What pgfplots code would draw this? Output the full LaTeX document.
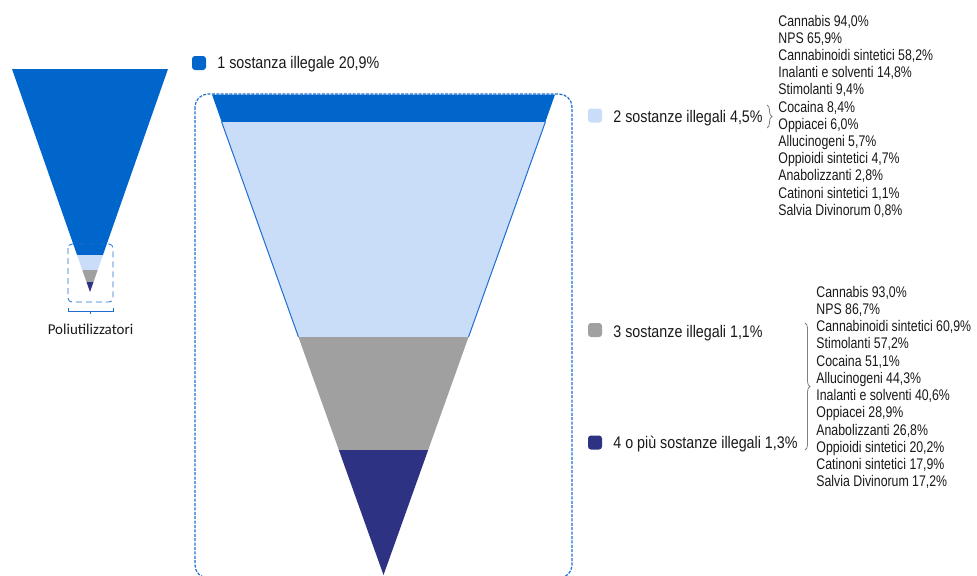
\documentclass[border=0pt]{standalone}
\usepackage{fontspec}
\setmainfont{Liberation Sans}
\newfontfamily\legfont{Liberation Sans}[FakeStretch=0.85]
\newfontfamily\lstfont{Liberation Sans}[FakeStretch=0.8]
\newfontfamily\carl{Carlito}
\usepackage{pgfplots}
\pgfplotsset{compat=1.18}
\usetikzlibrary{decorations.pathreplacing}

\definecolor{fblue}{RGB}{0,102,204}
\definecolor{flight}{RGB}{201,221,248}
\definecolor{fgray}{RGB}{160,160,160}
\definecolor{fnavy}{RGB}{45,50,130}
\definecolor{dashblue}{RGB}{30,110,210}
\definecolor{txt}{RGB}{25,25,25}

% one line of a substance list, baseline at (x,y)
\newcommand{\lst}[3]{\node[anchor=base west,inner sep=0pt,text=txt,
  font=\lstfont\fontsize{7.7}{8}\selectfont] at (axis cs:#1,#2) {#3};}
% legend entry: square centre y, text baseline y, colour, label
\newcommand{\leg}[4]{%
  \node[fill=#3,minimum size=7pt,inner sep=0pt,rounded corners=1.5pt] at (axis cs:595,#1) {};
  \node[anchor=base west,inner sep=0pt,text=txt,
    font=\legfont\fontsize{8.4}{9}\selectfont] at (axis cs:613,#2) {#4};}

\begin{document}
\begin{tikzpicture}
\begin{axis}[
    scale only axis,
    width=488.5pt, height=287.5pt,
    xmin=0, xmax=977, ymin=0, ymax=575,
    y dir=reverse,
    axis lines=none,
    clip=false,
  ]
  % small funnel
  \addplot[fill=fblue, draw=none] coordinates {(12,69) (168,69) (102.94,255) (77.06,255)} -- cycle;
  \addplot[fill=flight, draw=none] coordinates {(77.06,255) (102.94,255) (97.7,270) (82.3,270)} -- cycle;
  \addplot[fill=fgray, draw=none] coordinates {(82.3,270) (97.7,270) (93.5,282) (86.5,282)} -- cycle;
  \addplot[fill=fnavy, draw=none] coordinates {(86.5,282) (93.5,282) (90,292)} -- cycle;
  \draw[dashblue, densely dashed, line width=0.4pt, rounded corners=2pt]
    (axis cs:68,244) rectangle (axis cs:113,302);
  \draw[dashblue, line width=0.5pt] (axis cs:68,308) -- (axis cs:68,311) -- (axis cs:113,311) -- (axis cs:113,308)
    (axis cs:90.5,311) -- (axis cs:90.5,314);
  \node[anchor=base, inner sep=0pt, text=txt, font=\carl\fontsize{7.5}{9}\selectfont]
    at (axis cs:90.5,334) {Poliutilizzatori};

  % big funnel
  \addplot[fill=fblue, draw=none] coordinates {(212,94.5) (555,94.5) (545.35,122) (221.65,122)} -- cycle;
  \addplot[fill=flight, draw=none] coordinates {(221.65,122) (545.35,122) (468.53,337) (298.47,337)} -- cycle;
  \addplot[dashblue, line width=0.5pt] coordinates {(221.65,122) (298.47,337)};
  \addplot[dashblue, line width=0.5pt] coordinates {(545.35,122) (468.53,337)};
  \addplot[fill=fgray, draw=none] coordinates {(298.47,337) (468.53,337) (428.16,450) (338.84,450)} -- cycle;
  \addplot[fill=fnavy, draw=none] coordinates {(338.84,450) (428.16,450) (383.5,575)} -- cycle;
  \draw[dashblue, dash pattern=on 1.5pt off 0.7pt, line width=0.6pt, rounded corners=6.5pt]
    (axis cs:195,94) rectangle (axis cs:572,578);

  % legend entries
  \node[fill=fblue,minimum size=7pt,inner sep=0pt,rounded corners=1.5pt] at (axis cs:199,63) {};
  \node[anchor=base west,inner sep=0pt,text=txt,font=\legfont\fontsize{8.4}{9}\selectfont]
    at (axis cs:217,68) {1 sostanza illegale 20,9\%};
  \leg{115.5}{122.5}{flight}{2 sostanze illegali 4,5\%}
  \leg{330}{337}{fgray}{3 sostanze illegali 1,1\%}
  \leg{442.5}{448.5}{fnavy}{4 o più sostanze illegali 1,3\%}

  % braces
  \draw[decorate, decoration={brace, amplitude=2.5pt}, gray, line width=0.4pt]
    (axis cs:767,105) -- (axis cs:767,128);
  \draw[decorate, decoration={brace, amplitude=2.5pt}, gray, line width=0.4pt]
    (axis cs:805,323) -- (axis cs:805,450);

  % substance list, 2 substances
  \lst{778}{26}{Cannabis 94,0\%}
  \lst{778}{43.2}{NPS 65,9\%}
  \lst{778}{60.4}{Cannabinoidi sintetici 58,2\%}
  \lst{778}{77.6}{Inalanti e solventi 14,8\%}
  \lst{778}{94.8}{Stimolanti 9,4\%}
  \lst{778}{112}{Cocaina 8,4\%}
  \lst{778}{129.2}{Oppiacei 6,0\%}
  \lst{778}{146.4}{Allucinogeni 5,7\%}
  \lst{778}{163.6}{Oppioidi sintetici 4,7\%}
  \lst{778}{180.8}{Anabolizzanti 2,8\%}
  \lst{778}{198}{Catinoni sintetici 1,1\%}
  \lst{778}{215.2}{Salvia Divinorum 0,8\%}

  % substance list, 3 or more substances
  \lst{816}{297}{Cannabis 93,0\%}
  \lst{816}{314.27}{NPS 86,7\%}
  \lst{816}{331.54}{Cannabinoidi sintetici 60,9\%}
  \lst{816}{348.81}{Stimolanti 57,2\%}
  \lst{816}{366.08}{Cocaina 51,1\%}
  \lst{816}{383.35}{Allucinogeni 44,3\%}
  \lst{816}{400.62}{Inalanti e solventi 40,6\%}
  \lst{816}{417.89}{Oppiacei 28,9\%}
  \lst{816}{435.16}{Anabolizzanti 26,8\%}
  \lst{816}{452.43}{Oppioidi sintetici 20,2\%}
  \lst{816}{469.7}{Catinoni sintetici 17,9\%}
  \lst{816}{486.97}{Salvia Divinorum 17,2\%}
\end{axis}
\pgfresetboundingbox
\useasboundingbox (current axis.south west) rectangle (current axis.north east);
\end{tikzpicture}
\end{document}
